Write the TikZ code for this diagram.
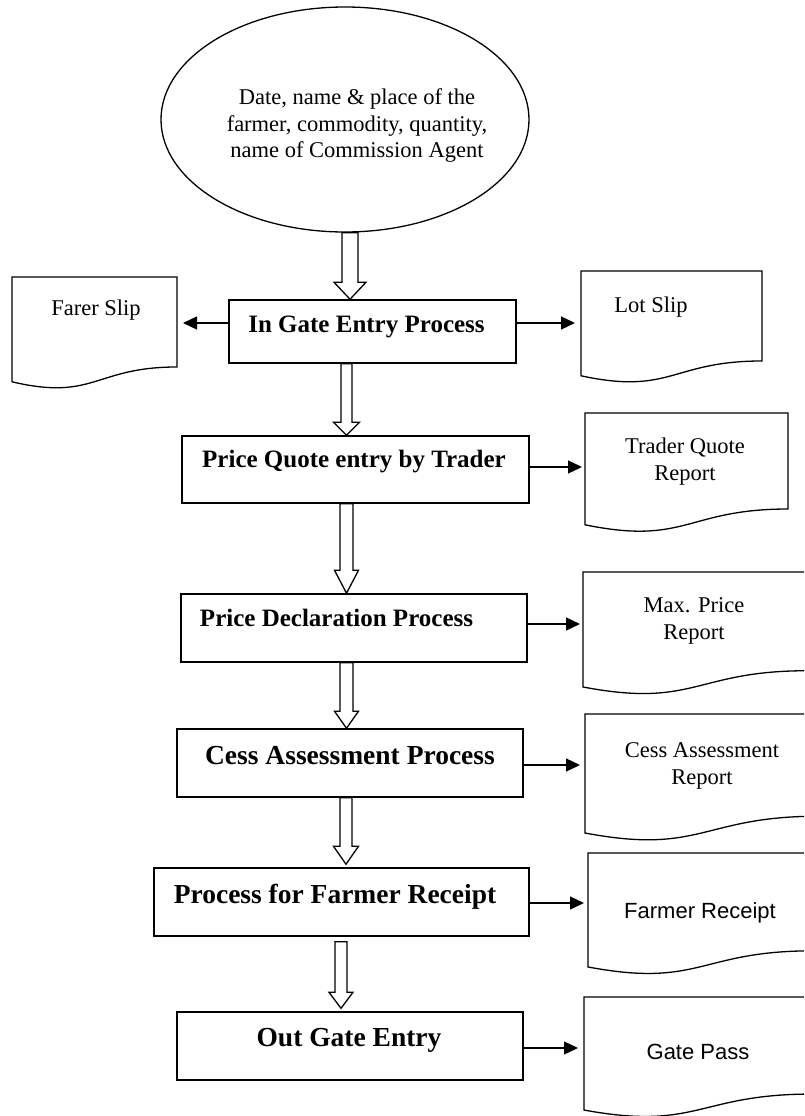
\documentclass[tikz,border=0pt]{standalone}
\usepackage{fontspec}
\setmainfont{Liberation Serif}
\newfontfamily\arialfont{Liberation Sans}
\usetikzlibrary{calc,arrows.meta,shapes.geometric}
\newcommand\blockarrow[5]{\draw[blk] let \p1=(#1), \p2=(#2) in
  (\x1-#3,\y1) -- (\x1-#3,\y2+#5) -- (\x1-#4,\y2+#5) -- (\x1,\y2) --
  (\x1+#4,\y2+#5) -- (\x1+#3,\y2+#5) -- (\x1+#3,\y1) -- cycle;}
\newcommand\docshape[4]{\draw[doc] (#1,#2) -- (#1+#3,#2) -- (#1+#3,#2+0.802*#4)
  .. controls (#1+0.5*#3,#2+0.802*#4) and (#1+0.5*#3,#2+1.1075*#4) .. (#1,#2+0.934*#4) -- cycle;}
\begin{document}
\begin{tikzpicture}[x=1pt,y=-1pt,
  box/.style={draw, line width=1.5pt, inner sep=0pt},
  btxt/.style={font=\fontsize{25}{30}\selectfont\bfseries, inner sep=0pt},
  btxtl/.style={font=\fontsize{27.5}{32}\selectfont\bfseries, inner sep=0pt},
  rtxt/.style={font=\fontsize{22.5}{26.5}\selectfont, align=center, inner sep=0pt},
  stxt/.style={font=\arialfont\fontsize{22}{26}\selectfont, inner sep=0pt},
  doc/.style={draw, line width=1.3pt},
  blk/.style={draw, line width=1.3pt, line join=miter},
  conn/.style={line width=1.3pt, -{Triangle[length=14pt,width=13pt]}}]
\useasboundingbox (0,0) rectangle (804,1116);
\begin{scope}
\clip (0,0) rectangle (804,1116);
% source ellipse
\node[draw, ellipse, line width=1.3pt, minimum width=368, minimum height=225, inner sep=0pt] (e) at (345,119.5) {};
\node[rtxt] (et) at (357,126) {Date, name \& place of the\\farmer, commodity, quantity,\\name of Commission Agent};
% process boxes
\node[box, minimum width=287, minimum height=63] (b1) at (372.5,331.5) {};
\node[btxt] (t1) at (366.5,327) {In Gate Entry Process};
\node[box, minimum width=347, minimum height=67] (b2) at (355.5,469.5) {};
\node[btxt] (t2) at (354,462) {Price Quote entry by Trader};
\node[box, minimum width=346, minimum height=68] (b3) at (354,628) {};
\node[btxt] (t3) at (336.5,618) {Price Declaration Process};
\node[box, minimum width=346, minimum height=68] (b4) at (350,763) {};
\node[btxtl] (t4) at (350,756) {Cess Assessment Process};
\node[box, minimum width=375, minimum height=68] (b5) at (341.5,902) {};
\node[btxtl] (t5) at (335,897) {Process for Farmer Receipt};
\node[box, minimum width=346, minimum height=68] (b6) at (350,1046) {};
\node[btxtl] (t6) at (349,1040) {Out Gate Entry};
% documents
\docshape{12}{277}{165}{112.2}
\node[rtxt] (d0) at (96,310) {Farer Slip};
\coordinate (d0in) at (183,323);
\docshape{581}{271}{181}{112.2}
\node[rtxt] (d1) at (651,307) {Lot Slip};
\coordinate (d1in) at (575,323);
\docshape{585}{413}{203}{119.7}
\node[rtxt] (d2) at (685,461.5) {Trader Quote\\Report};
\coordinate (d2in) at (582,467);
\docshape{583}{572}{224}{123.1}
\node[rtxt] (d3) at (694,621) {Max. Price\\Report};
\coordinate (d3in) at (580,624);
\docshape{585}{714}{234}{127.4}
\node[rtxt] (d4) at (702,766) {Cess Assessment\\Report};
\coordinate (d4in) at (580,765);
\docshape{588}{853}{224}{122}
\node[stxt] (d5) at (700,913) {Farmer Receipt};
\coordinate (d5in) at (584,903);
\docshape{584}{997}{228}{121}
\node[stxt] (d6) at (698,1052) {Gate Pass};
\coordinate (d6in) at (578,1048);
% output connectors
\draw[conn] (b1.west |- d0in) -- (d0in);
\draw[conn] (b1.east |- d1in) -- (d1in);
\draw[conn] (b2.east |- d2in) -- (d2in);
\draw[conn] (b3.east |- d3in) -- (d3in);
\draw[conn] (b4.east |- d4in) -- (d4in);
\draw[conn] (b5.east |- d5in) -- (d5in);
\draw[conn] (b6.east |- d6in) -- (d6in);
% hollow block arrows
\blockarrow{[xshift=5pt]e.south}{[xshift=-22.5pt]b1.north}{8pt}{16pt}{17pt}
\blockarrow{[xshift=-26pt]b1.south}{[xshift=-9pt]b2.north}{5.5pt}{13pt}{13pt}
\blockarrow{[xshift=-9pt]b2.south}{[xshift=-7.5pt]b3.north}{6.5pt}{12pt}{23pt}
\blockarrow{[xshift=-7.5pt]b3.south}{[xshift=-3.5pt]b4.north}{6.5pt}{12pt}{17pt}
\blockarrow{[xshift=-4pt]b4.south}{[xshift=4.5pt,yshift=3pt]b5.north}{6pt}{12.5pt}{18pt}
\blockarrow{[xshift=-0.5pt,yshift=-5pt]b5.south}{[xshift=-9pt,yshift=3pt]b6.north}{6pt}{12pt}{16pt}
\end{scope}
\end{tikzpicture}
\end{document}
